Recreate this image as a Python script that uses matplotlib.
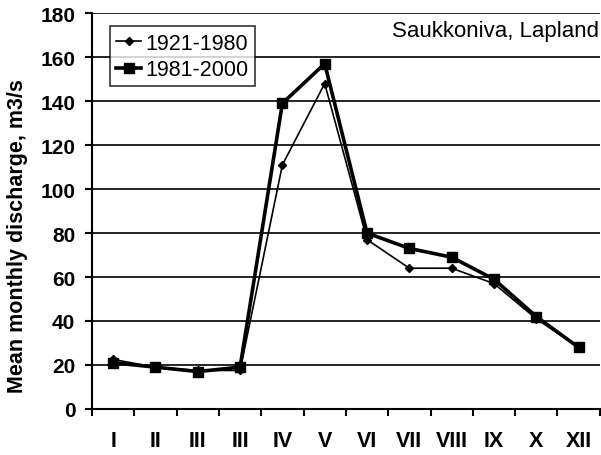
import numpy as np
import matplotlib
matplotlib.use('Agg')
import matplotlib.pyplot as plt

plt.rcParams['font.family'] = ['Liberation Sans', 'DejaVu Sans']

months = ['I', 'II', 'III', 'III', 'IV', 'V', 'VI', 'VII', 'VIII', 'IX', 'X', 'XII']
q_1921_1980 = [22.5, 19, 17.5, 17.5, 111, 148, 77, 64, 64, 57, 41, 28]
q_1981_2000 = [21, 19, 17, 19, 139, 157, 80, 73, 69, 59, 42, 28]

fig = plt.figure(figsize=(6.01, 4.56), dpi=100)
ax = fig.add_axes([0.153, 0.101, 0.845, 0.868])

x = np.arange(len(months))
ax.plot(x, q_1921_1980, color='black', lw=1.2, marker='D', ms=4.5, label='1921-1980')
ax.plot(x, q_1981_2000, color='black', lw=2.6, marker='s', ms=7, label='1981-2000')

ax.set_xlim(-0.5, len(months) - 0.5)
ax.set_ylim(0, 180)
ax.set_yticks(range(0, 181, 20))
ax.yaxis.grid(True, color='black', lw=1.2)
ax.set_axisbelow(True)

ax.set_xticks(x)
ax.set_xticklabels(months, fontsize=15.5, fontweight='bold')
ax.set_xticks(np.arange(-0.5, len(months), 1), minor=True)
ax.tick_params(axis='x', which='major', length=0, pad=15)
ax.tick_params(axis='x', which='minor', length=5, width=1.5, direction='out')
ax.tick_params(axis='y', length=5, width=1.5, direction='out', labelsize=15, pad=7)
for lab in ax.get_yticklabels():
    lab.set_fontweight('bold')

for side in ['top', 'right']:
    ax.spines[side].set_visible(False)
ax.spines['left'].set_linewidth(1.5)
ax.spines['bottom'].set_linewidth(1.5)

ax.set_ylabel('Mean monthly discharge, m3/s', fontsize=15.5, fontweight='bold')
ax.yaxis.set_label_coords(-0.125, 0.44)
ax.text(0.998, 0.957, 'Saukkoniva, Lapland', transform=ax.transAxes, ha='right', va='center', fontsize=16)

leg = ax.legend(loc='upper left', bbox_to_anchor=(0.035, 0.967), fontsize=15.5, frameon=True,
                fancybox=False, handlelength=1.15, handletextpad=0.2, borderpad=0.3,
                labelspacing=0.25, borderaxespad=0)
leg.get_frame().set_edgecolor('black')
leg.get_frame().set_linewidth(1.2)

fig.savefig('out.png', dpi=100)
